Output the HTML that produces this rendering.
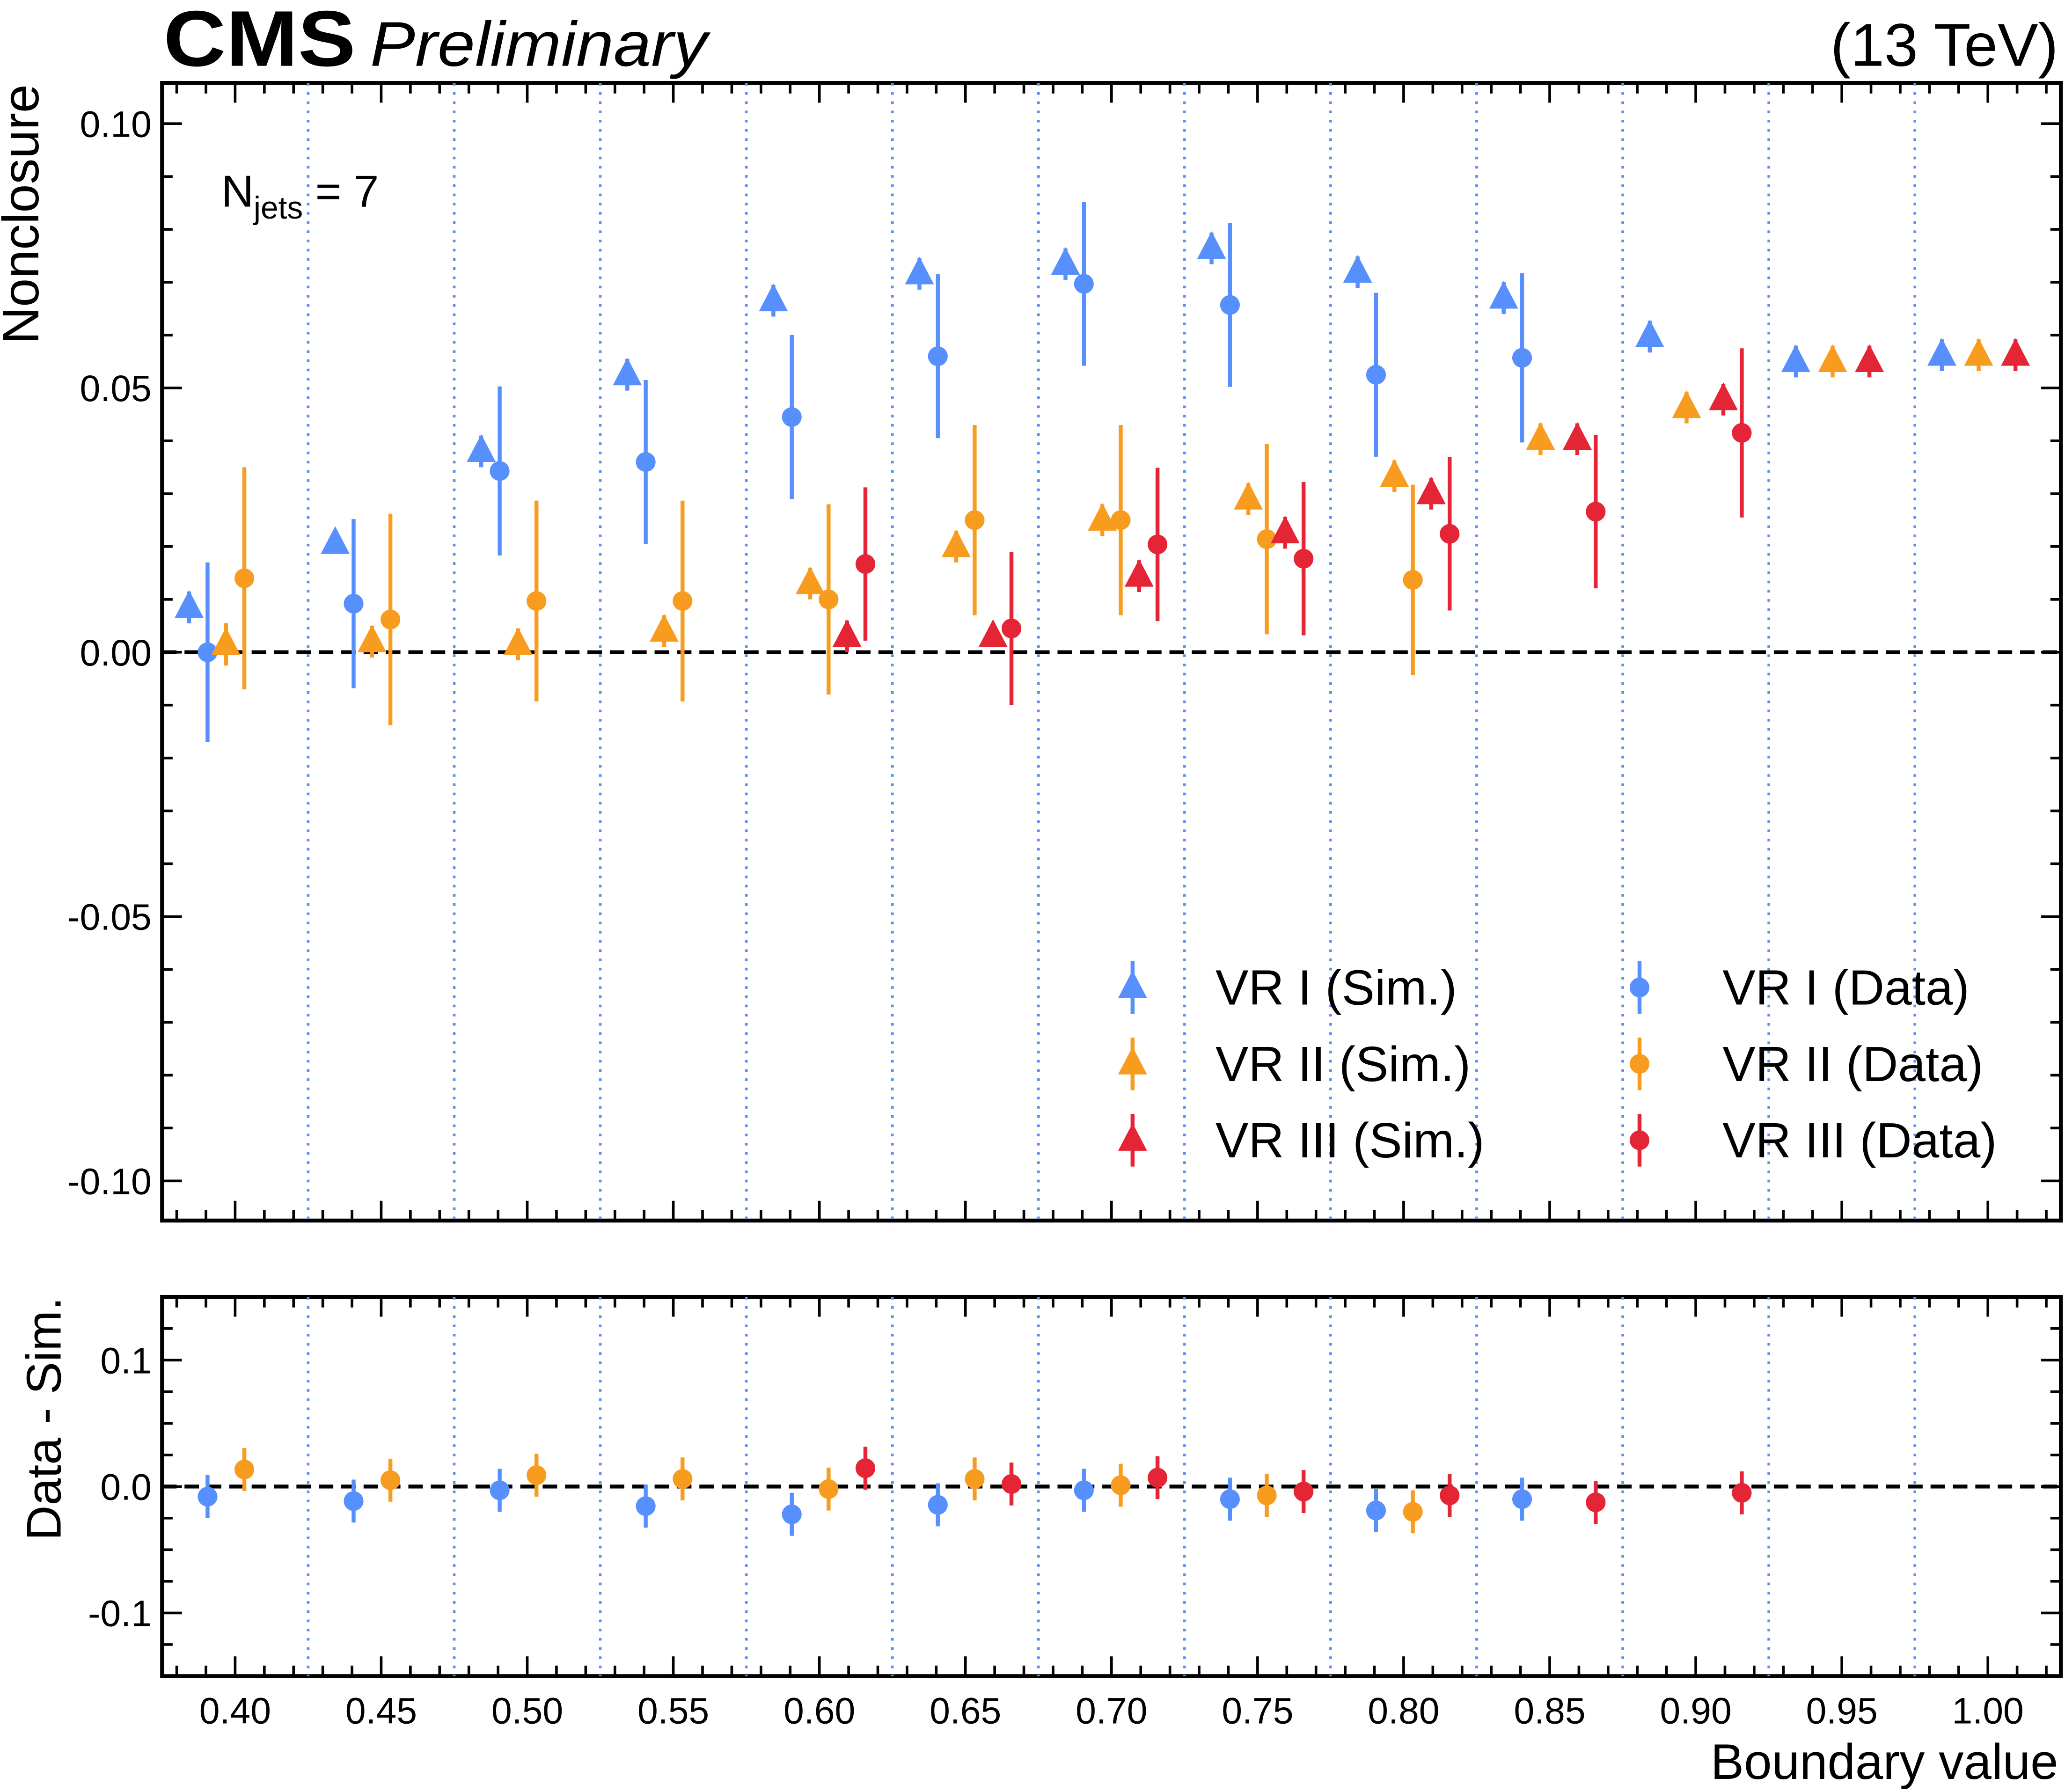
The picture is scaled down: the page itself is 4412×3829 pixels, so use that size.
<!DOCTYPE html>
<html><head><meta charset="utf-8"><style>
html,body{margin:0;padding:0;background:#fff;}
svg{display:block;font-family:"Liberation Sans",Arial,sans-serif;}
</style></head><body>
<svg id="chart" width="4412" height="3829" viewBox="0 0 1568 1361" xmlns="http://www.w3.org/2000/svg">
<rect x="0" y="0" width="1568" height="1361" fill="#fff"/>
<text x="124" y="50" font-size="60" font-weight="bold" textLength="146" lengthAdjust="spacingAndGlyphs">CMS</text>
<text x="281" y="50" font-size="48" font-style="italic" textLength="256" lengthAdjust="spacingAndGlyphs">Preliminary</text>
<text x="1563" y="50" font-size="46" text-anchor="end">(13 TeV)</text>
<text transform="translate(29,64) rotate(-90)" font-size="39" text-anchor="end">Nonclosure</text>
<text transform="translate(46,985) rotate(-90)" font-size="37" text-anchor="end">Data - Sim.</text>
<text x="1563" y="1351" font-size="38" text-anchor="end">Boundary value</text>
<text x="168" y="157" font-size="34">N<tspan font-size="24" dy="9">jets</tspan><tspan dy="-9"> = 7</tspan></text>
<g id="g"></g>
</svg>
<script>
// ---- data ----
const boundaries = [0.40,0.45,0.50,0.55,0.60,0.65,0.70,0.75,0.80,0.85,0.90,0.95,1.00];
const vr1Sim  = [0.0085,0.0206,0.038,0.0525,0.0665,0.0716,0.0734,0.0764,0.0719,0.067,0.0597,0.055,0.0562];
const vr1SimErr = [0.003,0.002,0.003,0.003,0.003,0.003,0.003,0.003,0.003,0.003,0.003,0.003,0.003];
const vr1Data = [0.000,0.0092,0.0343,0.036,0.0445,0.056,0.0697,0.0657,0.0525,0.0557,null,null,null];
const vr1DataErr = [0.017,0.016,0.016,0.0155,0.0155,0.0155,0.0155,0.0155,0.0155,0.016,0,0,0];
const vr2Sim  = [0.0015,0.002,0.0015,0.004,0.013,0.020,0.025,0.029,0.0333,0.0403,0.0463,0.055,0.0562];
const vr2SimErr = [0.004,0.003,0.003,0.003,0.003,0.003,0.003,0.003,0.003,0.003,0.003,0.003,0.003];
const vr2Data = [0.014,0.0062,0.0097,0.0097,0.010,0.025,0.025,0.0214,0.0137,null,null,null,null];
const vr2DataErr = [0.021,0.02,0.019,0.019,0.018,0.018,0.018,0.018,0.018,0,0,0,0];
const vr3Sim  = [null,null,null,null,0.003,0.003,0.0144,0.0226,0.030,0.0403,0.0478,0.055,0.0562];
const vr3SimErr = [0,0,0,0,0.003,0.002,0.003,0.003,0.003,0.003,0.003,0.003,0.003];
const vr3Data = [null,null,null,null,0.0167,0.0045,0.0204,0.0177,0.0224,0.0266,0.0415,null,null];
const vr3DataErr = [0,0,0,0,0.0145,0.0145,0.0145,0.0145,0.0145,0.0145,0.016,0,0];
const diff1 = [-0.008,-0.0115,-0.003,-0.0155,-0.022,-0.0145,-0.003,-0.010,-0.019,-0.010,null,null,null];
const diff2 = [0.0135,0.005,0.009,0.006,-0.002,0.006,0.001,-0.007,-0.020,null,null,null,null];
const diff3 = [null,null,null,null,0.0145,0.002,0.007,-0.004,-0.007,-0.0125,-0.005,null,null];
const diffErr = 0.017;
const topTicks = [0.10,0.05,0.00,-0.05,-0.10];
const topTickLabels = ["0.10","0.05","0.00","-0.05","-0.10"];
const botTicks = [0.1,0.0,-0.1];
const botTickLabels = ["0.1","0.0","-0.1"];
const xTicks = [0.40,0.45,0.50,0.55,0.60,0.65,0.70,0.75,0.80,0.85,0.90,0.95,1.00];
const xTickLabels = ["0.40","0.45","0.50","0.55","0.60","0.65","0.70","0.75","0.80","0.85","0.90","0.95","1.00"];

// ---- geometry ----
const L=123,R=1565,T1=63,B1=927,T2=985,B2=1273;
const X0=0.375,X1=1.025;
const x=v=>L+(v-X0)/(X1-X0)*(R-L);
const y1=v=>T1+(0.1077-v)/(0.2152)*(B1-T1);
const y2=v=>T2+(0.15-v)/0.30*(B2-T2);
const BLUE="#5790fc",ORANGE="#f89c20",RED="#e42536";
const NS="http://www.w3.org/2000/svg";
const G=document.getElementById('g');
function mk(tag,a,parent){const e=document.createElementNS(NS,tag);for(const k in a)e.setAttribute(k,a[k]);(parent||G).appendChild(e);return e;}

function panel(T,B,name){
  const r=mk('rect',{x:L,y:T,width:R-L,height:B-T,fill:'none',stroke:'#000','stroke-width':3});
  
  
  for(let i=0;i<13;i++){
    const bx=x(0.425+0.05*i);
    if(bx>R)break;
    const l=mk('line',{x1:bx,x2:bx,y1:T,y2:B,stroke:BLUE,'stroke-width':2,'stroke-dasharray':'2,5'});
    
    
  }
  for(let i=38;i<=102;i++){
    const v=i/100;const px=x(v);if(px<L||px>R)continue;
    const len=(i%5===0)?15:8;
    mk('line',{x1:px,x2:px,y1:B,y2:B-len,stroke:'#000','stroke-width':2});
    mk('line',{x1:px,x2:px,y1:T,y2:T+len,stroke:'#000','stroke-width':2});
  }
}
panel(T1,B1,'top-panel');
panel(T2,B2,'ratio-panel');

for(let i=-10;i<=10;i++){
  const v=i/100,py=y1(v),len=(i%5===0)?15:8;
  mk('line',{x1:L,x2:L+len,y1:py,y2:py,stroke:'#000','stroke-width':2});
  mk('line',{x1:R,x2:R-len,y1:py,y2:py,stroke:'#000','stroke-width':2});
}
topTicks.forEach((v,i)=>{
  const t=mk('text',{x:L-8,y:y1(v)+10,'font-size':28,'text-anchor':'end'});
  t.textContent=topTickLabels[i];
  
  
});
for(let i=-6;i<=6;i++){
  const v=i*0.025,py=y2(v),len=(i%4===0)?15:8;
  if(py<T2||py>B2)continue;
  mk('line',{x1:L,x2:L+len,y1:py,y2:py,stroke:'#000','stroke-width':2});
  mk('line',{x1:R,x2:R-len,y1:py,y2:py,stroke:'#000','stroke-width':2});
}
botTicks.forEach((v,i)=>{
  const t=mk('text',{x:L-8,y:y2(v)+10,'font-size':28,'text-anchor':'end'});
  t.textContent=botTickLabels[i];
  
  
});
xTicks.forEach((v,i)=>{
  const t=mk('text',{x:x(v),y:1309,'font-size':28,'text-anchor':'middle'});
  t.textContent=xTickLabels[i];
  
  
});
const z1=mk('line',{x1:L,x2:R,y1:y1(0),y2:y1(0),stroke:'#000','stroke-width':3,'stroke-dasharray':'11,6'});


const z2=mk('line',{x1:L,x2:R,y1:y2(0),y2:y2(0),stroke:'#000','stroke-width':3,'stroke-dasharray':'11,6'});



function marker(cx,cy,shape,color,errPx,name){
  const g=mk('g',{});
  
  
  mk('line',{x1:cx,x2:cx,y1:cy-errPx,y2:cy+errPx,stroke:color,'stroke-width':3},g);
  if(shape==='tri') mk('polygon',{points:`${cx},${cy-13} ${cx-11},${cy+8} ${cx+11},${cy+8}`,fill:color},g);
  else mk('circle',{cx:cx,cy:cy,r:7.5,fill:color},g);
}
const off=0.0063;
function series(vals,errs,k,shape,color,name,yf,sc){
  vals.forEach((v,i)=>{
    if(v===null)return;
    const e=Array.isArray(errs)?errs[i]:errs;
    marker(x(boundaries[i]+k*off),yf(v),shape,color,e*sc,name);
  });
}
const s1=(B1-T1)/0.2152, s2=(B2-T2)/0.30;
series(vr1Sim,vr1SimErr,-2.5,'tri',BLUE,'vr1-sim-point',y1,s1);
series(vr1Data,vr1DataErr,-1.5,'dot',BLUE,'vr1-data-point',y1,s1);
series(vr2Sim,vr2SimErr,-0.5,'tri',ORANGE,'vr2-sim-point',y1,s1);
series(vr2Data,vr2DataErr,0.5,'dot',ORANGE,'vr2-data-point',y1,s1);
series(vr3Sim,vr3SimErr,1.5,'tri',RED,'vr3-sim-point',y1,s1);
series(vr3Data,vr3DataErr,2.5,'dot',RED,'vr3-data-point',y1,s1);
series(diff1,diffErr,-1.5,'dot',BLUE,'vr1-diff-point',y2,s2);
series(diff2,diffErr,0.5,'dot',ORANGE,'vr2-diff-point',y2,s2);
series(diff3,diffErr,2.5,'dot',RED,'vr3-diff-point',y2,s2);

const legendItems=[
 [860,750,'tri',BLUE,'VR I (Sim.)'],[860,808,'tri',ORANGE,'VR II (Sim.)'],[860,866,'tri',RED,'VR III (Sim.)'],
 [1245,750,'dot',BLUE,'VR I (Data)'],[1245,808,'dot',ORANGE,'VR II (Data)'],[1245,866,'dot',RED,'VR III (Data)']];
legendItems.forEach(it=>{
  marker(it[0],it[1],it[2],it[3],20,'legend-marker');
  const t=mk('text',{x:it[0]+63,y:it[1]+13,'font-size':37.5});
  t.textContent=it[4];
  
  
});
</script>
</body></html>
